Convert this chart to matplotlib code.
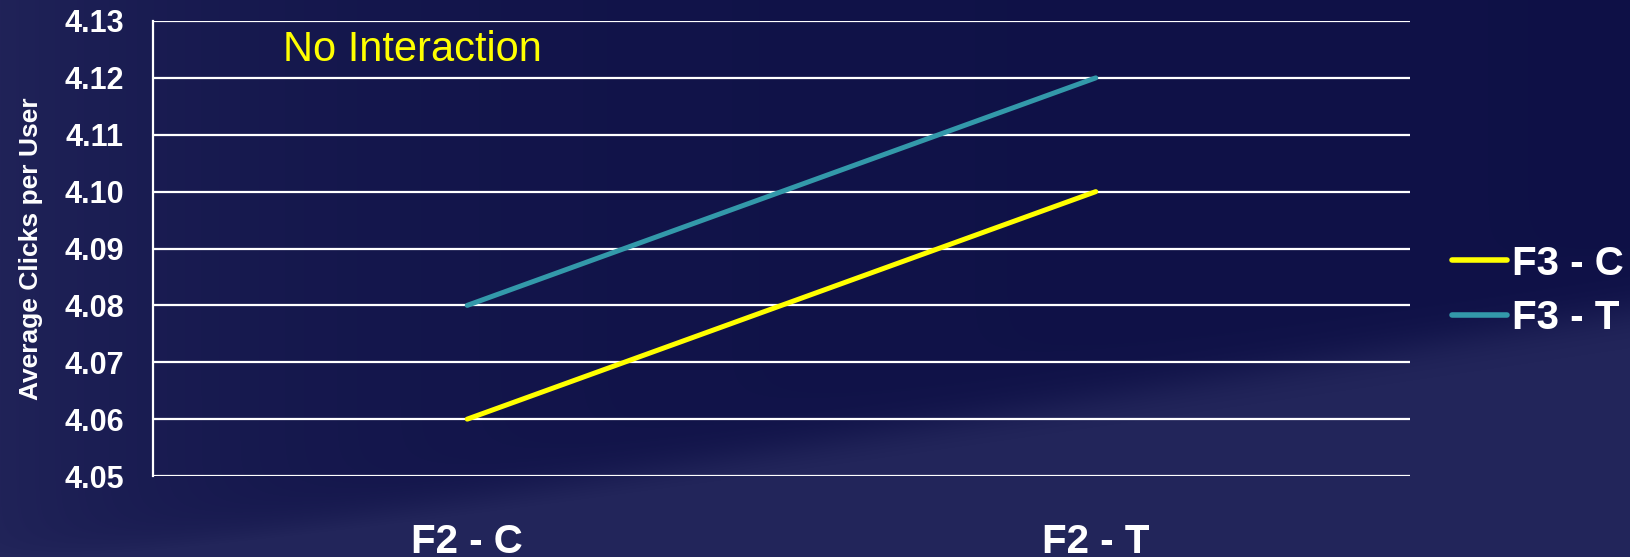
import numpy as np
import matplotlib
matplotlib.use("Agg")
import matplotlib.pyplot as plt
from matplotlib.transforms import blended_transform_factory

# data
categories = ["F2 - C", "F2 - T"]
series_names = ["F3 - C", "F3 - T"]
f3_c = [4.06, 4.10]
f3_t = [4.08, 4.12]
y_ticks = [4.05, 4.06, 4.07, 4.08, 4.09, 4.10, 4.11, 4.12, 4.13]

colors = ["#FFFF00", "#3399AA"]

plt.rcParams["font.family"] = ["Liberation Sans", "DejaVu Sans"]

W, H = 1631, 557
fig = plt.figure(figsize=(W / 100, H / 100), dpi=100)

# navy slide background: dark upper part, lighter swoosh below a rising curve
bg = fig.add_axes([0, 0, 1, 1], zorder=-10)
yy, xx = np.mgrid[0:H, 0:W].astype(float)
dark = np.array([14, 16, 70]) / 255
light = np.array([34, 37, 90]) / 255
curve = 430 - 120 * (xx - 900) / 731
f = 1 / (1 + np.exp(-(yy - curve) / 12))
f = f + 0.65 * np.exp(-xx / 260) + 0.25 * np.exp(-xx / 900)
f = np.clip(f, 0, 1)
img = dark[None, None, :] * (1 - f[..., None]) + light[None, None, :] * f[..., None]
bg.imshow(img, aspect="auto", extent=[0, W, H, 0])
bg.axis("off")

ax = fig.add_axes([153 / W, 1 - 476 / H, (1410 - 153) / W, (476 - 21) / H])
ax.set_facecolor("none")

x = np.arange(len(categories))
for vals, name, c in zip([f3_c, f3_t], series_names, colors):
    ax.plot(x, vals, color=c, lw=3.6, label=name, solid_capstyle="round", zorder=3)

ax.set_xlim(-0.5, 1.5)
ax.set_ylim(4.05, 4.13)
ax.set_yticks(y_ticks)
ax.set_yticklabels([f"{v:.2f}" for v in y_ticks], fontsize=22, fontweight="bold", color="white")
ax.set_xticks(x)
ax.set_xticklabels(categories, fontsize=29, fontweight="bold", color="white")
ax.tick_params(axis="both", length=0)
ax.tick_params(axis="y", pad=21)
ax.tick_params(axis="x", pad=34)
ax.grid(axis="y", color="white", lw=1.6)
ax.set_axisbelow(True)
for s in ["top", "right", "bottom"]:
    ax.spines[s].set_visible(False)
ax.spines["left"].set_color("white")
ax.spines["left"].set_linewidth(1.6)

ax.set_ylabel("Average Clicks per User", fontsize=19, fontweight="bold", color="white")
ax.yaxis.set_label_coords(43 / W, 0.5, transform=blended_transform_factory(fig.transFigure, ax.transAxes))

fig.text(283 / W, 1 - 50 / H, "No Interaction", color="#FFFF00", fontsize=30, va="center", ha="left")

leg = fig.legend(loc="center left", bbox_to_anchor=(1452 / W, 1 - 291 / H), frameon=False,
                 fontsize=29, handlelength=1.37, handletextpad=0.12, labelspacing=0.42,
                 borderpad=0, borderaxespad=0)
for t in leg.get_texts():
    t.set_color("white")
    t.set_fontweight("bold")
for h in leg.get_lines():
    h.set_linewidth(4)
    h.set_solid_capstyle("round")

fig.savefig("out.png", dpi=100)
